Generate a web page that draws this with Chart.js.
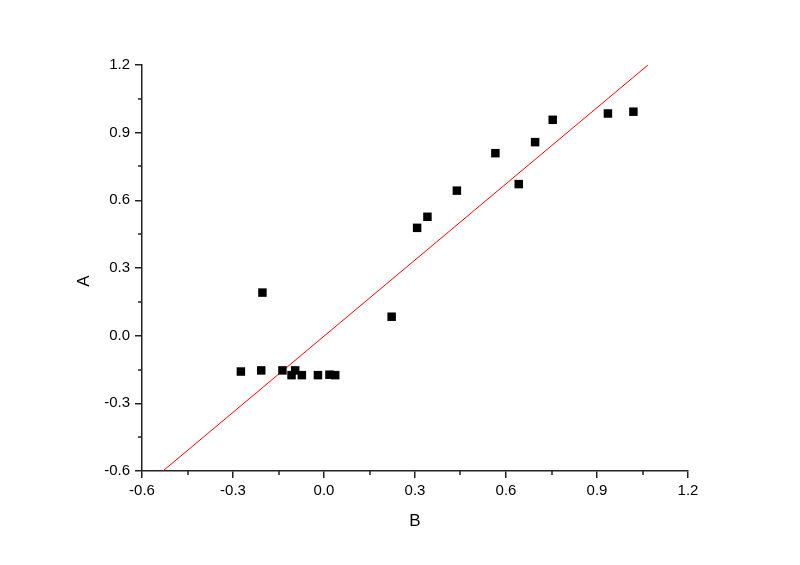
<!DOCTYPE html>
<html>
<head>
<meta charset="utf-8">
<script src="https://cdn.jsdelivr.net/npm/chart.js@4/dist/chart.umd.min.js"></script>
<style>
html,body{margin:0;padding:0;background:#fff;}
#wrap{width:800px;height:565px;position:relative;}
</style>
</head>
<body>
<div id="wrap"><canvas id="c" width="800" height="565"></canvas></div>
<script>
const xB = [-0.274, -0.207, -0.203, -0.137, -0.107, -0.095, -0.073, -0.020, 0.018, 0.037,
            0.223, 0.307, 0.341, 0.438, 0.565, 0.642, 0.696, 0.754, 0.936, 1.020];
const yA = [-0.159, -0.154, 0.191, -0.154, -0.175, -0.154, -0.175, -0.175, -0.173, -0.175,
            0.084, 0.478, 0.527, 0.643, 0.809, 0.672, 0.858, 0.957, 0.985, 0.993];
const fitX = [-0.531, 1.068];
const fitY = [-0.6, 1.2];
const xTicks = [-0.6, -0.3, 0.0, 0.3, 0.6, 0.9, 1.2];
const yTicks = [-0.6, -0.3, 0.0, 0.3, 0.6, 0.9, 1.2];
const xTitle = 'B';
const yTitle = 'A';

const pts = xB.map((x, i) => ({x: x, y: yA[i]}));
const fit = fitX.map((x, i) => ({x: x, y: fitY[i]}));

const fontFamily = '"Liberation Sans", Arial, sans-serif';
const tickFont = {family: fontFamily, size: 15};
const titleFont = {family: fontFamily, size: 17};

const extras = {
  id: 'extras',
  afterDraw(chart) {
    const ctx = chart.ctx;
    const xs = chart.scales.x, ys = chart.scales.y;
    ctx.save();
    ctx.strokeStyle = '#222';
    ctx.lineWidth = 1.5;
    ctx.beginPath();
    for (let i = 0; i < xTicks.length - 1; i++) {
      const v = (xTicks[i] + xTicks[i + 1]) / 2;
      const px = Math.round(xs.getPixelForValue(v));
      ctx.moveTo(px, xs.top);
      ctx.lineTo(px, xs.top + 4);
    }
    for (let i = 0; i < yTicks.length - 1; i++) {
      const v = (yTicks[i] + yTicks[i + 1]) / 2;
      const py = Math.round(ys.getPixelForValue(v));
      ctx.moveTo(ys.right, py);
      ctx.lineTo(ys.right - 4, py);
    }
    ctx.stroke();
    // y axis title
    ctx.fillStyle = '#000';
    ctx.font = titleFont.size + 'px ' + fontFamily;
    ctx.textAlign = 'center';
    ctx.textBaseline = 'middle';
    ctx.translate(ys.left + 84, (ys.top + ys.bottom) / 2 + 13);
    ctx.rotate(-Math.PI / 2);
    ctx.fillText(yTitle, 0, 0);
    ctx.restore();
  }
};

new Chart(document.getElementById('c'), {
  type: 'scatter',
  data: {
    datasets: [
      {
        label: 'A',
        data: pts,
        pointStyle: 'rect',
        pointRadius: 6,
        pointHoverRadius: 6,
        backgroundColor: '#000',
        borderWidth: 0,
        order: 1
      },
      {
        label: 'fit',
        data: fit,
        showLine: true,
        pointRadius: 0,
        borderColor: '#ff0000',
        borderWidth: 1,
        fill: false,
        order: 2
      }
    ]
  },
  options: {
    responsive: false,
    animation: false,
    devicePixelRatio: 1,
    layout: {padding: {left: 0, top: 65, right: 112, bottom: 0}},
    plugins: {legend: {display: false}, tooltip: {enabled: false}},
    scales: {
      x: {
        type: 'linear',
        min: -0.6, max: 1.2,
        afterBuildTicks: s => { s.ticks = xTicks.map(v => ({value: v})); },
        afterFit: s => { s.height = 94; },
        ticks: {
          color: '#000', font: tickFont, padding: 4, maxRotation: 0,
          callback: v => Number(v).toFixed(1)
        },
        grid: {display: true, drawOnChartArea: false, drawTicks: true, tickLength: 7, color: '#222', lineWidth: 1.5},
        border: {display: true, color: '#222', width: 1.5},
        title: {display: true, text: xTitle, color: '#000', font: titleFont, padding: {top: 0, bottom: 33}}
      },
      y: {
        type: 'linear',
        min: -0.6, max: 1.2,
        afterBuildTicks: s => { s.ticks = yTicks.map(v => ({value: v})); },
        afterFit: s => { s.width = 142; },
        ticks: {
          color: '#000', font: tickFont, padding: 5,
          callback: v => Number(v).toFixed(1)
        },
        grid: {display: true, drawOnChartArea: false, drawTicks: true, tickLength: 7, color: '#222', lineWidth: 1.5},
        border: {display: true, color: '#222', width: 1.5},
        title: {display: false}
      }
    }
  },
  plugins: [extras]
});
</script>
</body>
</html>
